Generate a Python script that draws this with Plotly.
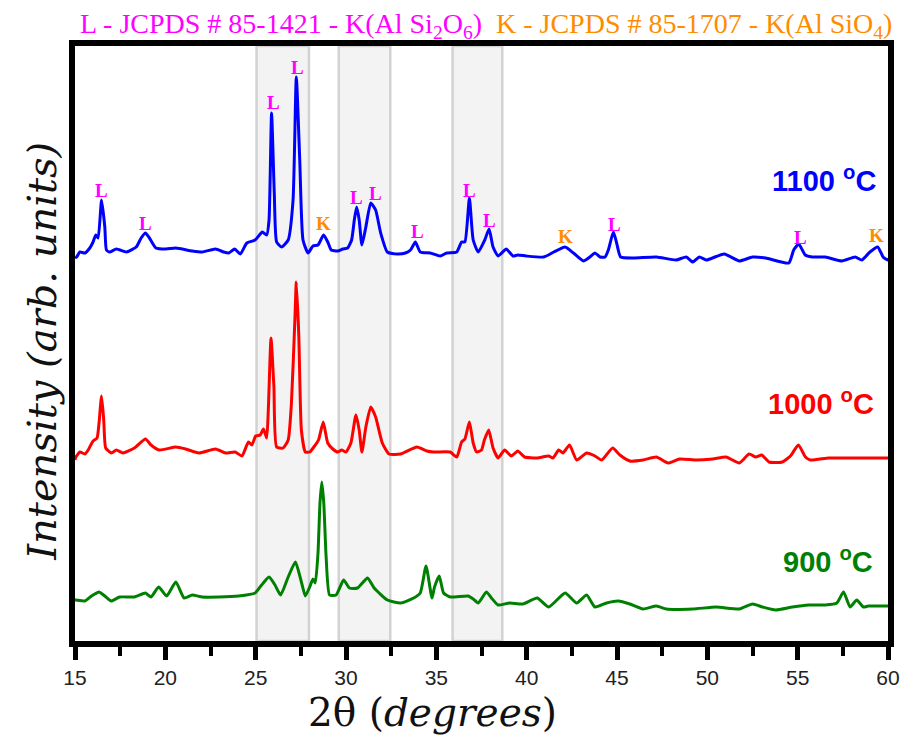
import plotly.graph_objects as go

# ---------------- data ----------------
two_theta_1100 = [15.0, 15.09, 15.27, 15.55, 15.82, 16.00, 16.15, 16.28, 16.47, 16.65, 16.74, 16.92, 17.29, 17.84,
                  18.39, 18.66, 18.90, 19.12, 19.48, 20.03, 20.58, 21.49, 22.04, 22.78, 23.23, 23.51, 23.84, 24.15,
                  24.51, 24.97, 25.37, 25.61, 25.74, 25.88, 26.03, 26.16, 26.43, 26.80, 27.07, 27.25, 27.44, 27.62,
                  27.90, 28.17, 28.45, 28.76, 28.99, 29.18, 29.54, 29.82, 30.09, 30.31, 30.46, 30.59, 30.73, 30.88,
                  31.10, 31.37, 31.64, 31.92, 32.29, 32.84, 33.29, 33.57, 33.84, 34.11, 34.66, 35.21, 35.58, 36.13,
                  36.40, 36.58, 36.83, 37.04, 37.32, 37.68, 37.92, 38.14, 38.42, 38.87, 39.24, 39.51, 39.97, 40.95,
                  41.50, 42.13, 42.59, 43.14, 43.50, 43.78, 44.06, 44.34, 44.52, 44.80, 44.98, 45.20, 45.90, 47.18,
                  48.28, 48.83, 49.20, 49.56, 49.94, 50.94, 51.77, 52.50, 53.23, 54.51, 54.78, 55.06, 55.42, 55.80,
                  56.53, 57.45, 58.18, 58.55, 59.00, 59.43, 59.73, 59.97, 60.0]
intensity_1100 = [382, 383, 388, 387, 392, 398, 405, 402, 440, 413, 390, 388, 391, 388,
                  393, 402, 407, 402, 392, 391, 392, 389, 388, 391, 388, 387, 391, 386,
                  397, 400, 408, 405, 420, 527, 447, 398, 393, 400, 440, 563, 480, 400,
                  387, 394, 395, 405, 398, 390, 389, 391, 392, 400, 420, 433, 420, 395,
                  413, 437, 430, 407, 388, 386, 387, 390, 398, 388, 387, 384, 387, 388,
                  398, 398, 442, 400, 388, 400, 411, 393, 384, 391, 384, 385, 384, 383,
                  388, 393, 387, 379, 383, 387, 383, 383, 390, 408, 397, 383, 382, 383,
                  380, 383, 378, 383, 380, 386, 379, 383, 382, 377, 390, 396, 385, 383,
                  383, 379, 383, 380, 388, 393, 383, 380, 382]

two_theta_1000 = [15.0, 15.05, 15.27, 15.55, 15.73, 16.00, 16.22, 16.33, 16.47, 16.59, 16.70, 17.01, 17.29, 17.65,
                  18.29, 18.90, 19.21, 19.66, 20.58, 21.13, 21.86, 22.78, 23.33, 23.87, 24.24, 24.60, 24.79, 25.00,
                  25.25, 25.43, 25.61, 25.70, 25.85, 26.01, 26.16, 26.52, 26.80, 26.98, 27.17, 27.25, 27.39, 27.53,
                  27.75, 27.99, 28.26, 28.48, 28.74, 28.99, 29.27, 29.54, 29.76, 30.00, 30.27, 30.55, 30.73, 30.88,
                  31.10, 31.37, 31.64, 32.01, 32.38, 33.02, 33.93, 34.48, 34.85, 35.76, 36.13, 36.40, 36.58, 36.83,
                  37.04, 37.23, 37.50, 37.66, 37.90, 38.14, 38.42, 38.78, 39.15, 39.51, 39.88, 40.58, 41.22, 41.46,
                  41.77, 42.01, 42.37, 42.77, 43.32, 43.78, 44.15, 44.76, 45.16, 45.71, 46.44, 47.18, 47.83, 48.46,
                  49.38, 50.30, 51.04, 51.77, 52.31, 52.68, 53.01, 53.41, 54.15, 54.60, 55.04, 55.43, 55.70, 56.72,
                  57.81, 60.0]
intensity_1000 = [180, 183, 188, 186, 190, 199, 202, 217, 244, 220, 192, 187, 190, 187,
                  192, 201, 195, 190, 193, 191, 187, 191, 187, 188, 184, 198, 195, 204,
                  205, 211, 202, 230, 302, 253, 193, 192, 200, 237, 320, 358, 303, 210,
                  188, 188, 194, 200, 218, 197, 191, 188, 190, 188, 197, 225, 210, 188,
                  213, 233, 223, 197, 186, 186, 193, 189, 188, 188, 183, 198, 201, 218,
                  197, 188, 190, 200, 210, 192, 182, 190, 184, 189, 183, 182, 184, 182,
                  190, 187, 195, 180, 187, 184, 180, 192, 185, 179, 180, 183, 177, 181,
                  180, 181, 183, 177, 186, 183, 185, 178, 178, 184, 195, 183, 180, 182,
                  182, 182]

two_theta_900 = [15.0, 15.05, 15.55, 15.92, 16.33, 16.65, 17.01, 17.47, 18.29, 18.90, 19.21, 19.63, 20.07, 20.58,
                 21.04, 21.49, 22.04, 22.96, 24.06, 24.97, 25.33, 25.74, 26.07, 26.38, 26.80, 27.20, 27.53, 27.75,
                 27.99, 28.17, 28.30, 28.45, 28.56, 28.66, 28.77, 28.90, 29.09, 29.45, 29.87, 30.19, 30.64, 31.19,
                 31.56, 32.29, 33.02, 33.75, 34.11, 34.43, 34.76, 34.90, 35.16, 35.40, 35.76, 36.77, 37.04, 37.32,
                 37.77, 38.05, 38.42, 39.05, 39.79, 40.58, 41.22, 42.13, 42.77, 43.32, 43.78, 44.42, 45.07, 45.71,
                 46.44, 47.18, 47.73, 49.20, 50.49, 51.77, 52.50, 53.05, 53.78, 54.71, 55.62, 56.53, 57.17, 57.54,
                 57.90, 58.27, 58.64, 58.91, 60.0]
intensity_900 = [40, 40, 39, 44, 48, 44, 39, 43, 43, 47, 43, 53, 44, 58,
                 42, 45, 43, 43, 44, 47, 55, 63, 55, 45, 63, 78, 58, 44,
                 53, 61, 57, 87, 137, 158, 137, 83, 45, 45, 60, 52, 52, 62,
                 52, 40, 37, 42, 47, 74, 42, 53, 64, 47, 43, 44, 41, 37,
                 48, 42, 35, 37, 36, 42, 33, 47, 37, 45, 33, 37, 39, 36,
                 31, 34, 31, 31, 33, 31, 36, 33, 30, 33, 35, 35, 37, 48,
                 33, 40, 33, 34, 34]

# peak labels of the 1100 C pattern
label_x = [16.47, 18.90, 25.97, 27.31, 28.76, 30.59, 31.65, 33.97, 36.86, 37.92, 42.13, 44.88, 55.15, 59.37]
label_y = [450, 417, 538, 573, 417, 443, 447, 409, 450, 420, 404, 416, 403, 405]
label_text = ["L", "L", "L", "L", "K", "L", "L", "L", "L", "L", "K", "L", "L", "K"]

# shaded regions (2theta ranges)
band_start = [25.05, 29.6, 35.9]
band_end = [27.95, 32.45, 38.65]

# temperature labels
temp_text = ["1100 <sup>o</sup>C", "1000 <sup>o</sup>C", "900 <sup>o</sup>C"]
temp_x = [59.42, 59.32, 59.27]
temp_y = [461, 238, 80]

x_ticks = [15, 20, 25, 30, 35, 40, 45, 50, 55, 60]

MAGENTA = "#ff00ff"
ORANGE = "#ff8c00"
series_colors = ["#0000ff", "#ff0000", "#008000"]

# ---------------- figure ----------------
fig = go.Figure()

for xs, ys, c, name in [(two_theta_1100, intensity_1100, series_colors[0], "1100 °C"),
                        (two_theta_1000, intensity_1000, series_colors[1], "1000 °C"),
                        (two_theta_900, intensity_900, series_colors[2], "900 °C")]:
    fig.add_trace(go.Scatter(x=xs, y=ys, mode="lines", name=name,
                             line=dict(color=c, width=3, shape="spline", smoothing=0.5),
                             showlegend=False, hoverinfo="x+y"))

for x0, x1 in zip(band_start, band_end):
    fig.add_shape(type="rect", xref="x", yref="paper", x0=x0, x1=x1, y0=0, y1=1,
                  fillcolor="#f3f3f3", line=dict(color="#d2d2d2", width=2.5), layer="below")

for lx, ly, lt in zip(label_x, label_y, label_text):
    fig.add_annotation(x=lx, y=ly, xref="x", yref="y", text="<b>" + lt + "</b>", showarrow=False,
                       xanchor="center", yanchor="middle",
                       font=dict(family="Liberation Serif", size=19,
                                 color=MAGENTA if lt == "L" else ORANGE))

for t, tx, ty, c in zip(temp_text, temp_x, temp_y, series_colors):
    fig.add_annotation(x=tx, y=ty, xref="x", yref="y", text="<b>" + t + "</b>", showarrow=False,
                       xanchor="right", yanchor="middle",
                       font=dict(family="Liberation Sans", size=29, color=c))

# header lines
fig.add_annotation(x=0.2537, y=1.034, xref="paper", yref="paper",
                   text="L - JCPDS # 85-1421 - K(Al Si<sub>2</sub>O<sub>6</sub>)",
                   showarrow=False, xanchor="center", yanchor="middle",
                   font=dict(family="Liberation Serif", size=28, color=MAGENTA))
fig.add_annotation(x=0.7616, y=1.034, xref="paper", yref="paper",
                   text="K - JCPDS # 85-1707 - K(Al SiO<sub>4</sub>)",
                   showarrow=False, xanchor="center", yanchor="middle",
                   font=dict(family="Liberation Serif", size=28, color=ORANGE))

# axis titles
fig.add_annotation(x=0.44, y=-0.12, xref="paper", yref="paper",
                   text="2θ (<i>degrees</i>)", showarrow=False,
                   xanchor="center", yanchor="middle",
                   font=dict(family="DejaVu Serif", size=39, color="#111"))
fig.add_annotation(x=-0.04, y=0.487, xref="paper", yref="paper",
                   text="<i>Intensity (arb. units)</i>", showarrow=False, textangle=-90,
                   xanchor="center", yanchor="middle",
                   font=dict(family="DejaVu Serif", size=40, color="#111"))

fig.update_xaxes(range=[15, 60], tickmode="array", tickvals=x_ticks,
                 ticks="outside", ticklen=13, tickwidth=5, tickcolor="black",
                 minor=dict(dtick=2.5, tick0=15, ticks="outside", ticklen=9, tickwidth=4, tickcolor="black"),
                 showline=True, linewidth=6, linecolor="black", mirror=True,
                 showgrid=False, zeroline=False,
                 tickfont=dict(family="Liberation Sans", size=21, color="#222"))
fig.update_yaxes(range=[-1, 594], showticklabels=False, ticks="",
                 showline=True, linewidth=6, linecolor="black", mirror=True,
                 showgrid=False, zeroline=False)

# the page body adds an 8 px margin, so the figure is 8 px smaller and margins shifted
fig.update_layout(width=904, height=736, plot_bgcolor="white", paper_bgcolor="white",
                  margin=dict(l=67, r=19, t=38, b=103))

fig.write_html("out.html")
